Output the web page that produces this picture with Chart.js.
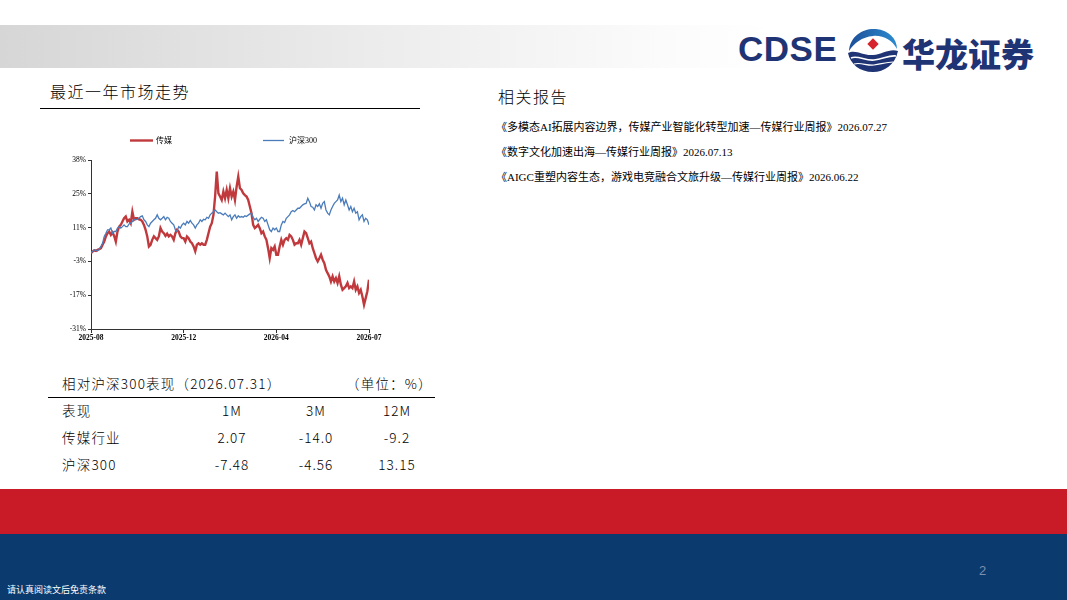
<!DOCTYPE html>
<html>
<head>
<meta charset="utf-8">
<script src="https://cdn.jsdelivr.net/npm/chart.js@4.4.1/dist/chart.umd.min.js"></script>
<style>
  html, body { margin:0; padding:0; }
  body { width:1067px; height:600px; position:relative; overflow:hidden; background:#fff;
         font-family:"Noto Sans CJK SC","Liberation Serif",serif; color:#000; }
  .abs { position:absolute; white-space:nowrap; }
  #header { left:0; top:25px; width:1067px; height:43px;
            background:linear-gradient(to right,#d6d6d6 0%,#ececec 35%,#fbfbfb 62%,#ffffff 72%); }
  #cdse { left:738px; top:29px; font-family:"Liberation Sans","DejaVu Sans",sans-serif; font-weight:bold;
          font-size:35px; color:#1f3474; letter-spacing:0.5px; }
  #hlzq { left:902px; top:29px; font-family:"Noto Sans CJK SC"; font-weight:900; font-size:33px; color:#1f3474; letter-spacing:0px; }
  #title1 { left:50px; top:79px; font-size:16px; letter-spacing:1.5px; font-weight:300; }
  #rule1 { left:40px; top:108px; width:380px; height:1px; background:#000; }
  #title2 { left:498px; top:84px; font-size:16px; letter-spacing:1.5px; font-weight:300; }
  .rep { left:496px; font-family:"Liberation Serif","Noto Sans CJK SC",serif; font-size:11px; }
  #chartBox { left:60px; top:128px; width:330px; height:222px; }
  .tbl { font-family:"Noto Sans CJK SC"; font-size:13.5px; letter-spacing:1.2px; font-weight:300; }
  .num { font-family:"Noto Sans CJK SC"; font-size:13.5px; text-align:center; width:80px; letter-spacing:1px; font-weight:300; }
  #rule2 { left:48px; top:397px; width:387px; height:1px; background:#000; }
  #red { left:0; top:489px; width:1067px; height:45px; background:#c81b27; }
  #blue { left:0; top:534px; width:1067px; height:66px; background:#0b3a6f; }
  #pg { left:979px; top:563px; font-family:"Liberation Sans",sans-serif; font-size:13px; color:#7d8fae; }
  #foot { left:7px; top:583px; font-size:9px; color:#ffffff; }
</style>
</head>
<body>
<div id="header" class="abs"></div>
<div id="cdse" class="abs">CDSE</div>
<svg class="abs" style="left:846px;top:27px" width="54" height="46" viewBox="0 0 54 46">
  <defs>
    <linearGradient id="g1" x1="0" y1="0" x2="1" y2="0">
      <stop offset="0" stop-color="#1c4f98"/><stop offset="1" stop-color="#2d8bd0"/>
    </linearGradient>
  </defs>
  <path d="M3 24 C4 9 17 1 30 2 C43 3 51 12 51 22 C46 13 37 8 27 9 C16 10 8 16 3 24 Z" fill="url(#g1)"/>
  <path d="M2 26 C10 22 17 29 27 28 C37 27 44 21 52 24 C49 38 38 45 27 45 C14 45 4 37 2 26 Z" fill="#1f3474"/>
  <path d="M5 31 C12 28 19 34 28 33 C37 32 43 28 50 29" stroke="#fff" stroke-width="1.6" fill="none"/>
  <path d="M8 37 C15 35 21 39 28 38 C35 37 41 35 47 35" stroke="#fff" stroke-width="1.2" fill="none"/>
  <rect x="23" y="13" width="8" height="8" transform="rotate(45 27 17)" fill="#d7242c"/>
</svg>
<div id="hlzq" class="abs">华龙证券</div>

<div id="title1" class="abs">最近一年市场走势</div>
<div id="rule1" class="abs"></div>
<div id="title2" class="abs">相关报告</div>
<div class="abs rep" style="top:118px">《多模态AI拓展内容边界，传媒产业智能化转型加速—传媒行业周报》2026.07.27</div>
<div class="abs rep" style="top:143px">《数字文化加速出海—传媒行业周报》2026.07.13</div>
<div class="abs rep" style="top:168px">《AIGC重塑内容生态，游戏电竞融合文旅升级—传媒行业周报》2026.06.22</div>

<div id="chartBox" class="abs"><canvas id="c"></canvas></div>

<div class="abs tbl" style="left:62px;top:373px">相对沪深300表现（2026.07.31）</div>
<div class="abs tbl" style="left:346px;top:373px">（单位：%）</div>
<div id="rule2" class="abs"></div>
<div class="abs tbl" style="left:62px;top:400px">表现</div>
<div class="abs num" style="left:192px;top:400px">1M</div>
<div class="abs num" style="left:276px;top:400px">3M</div>
<div class="abs num" style="left:357px;top:400px">12M</div>
<div class="abs tbl" style="left:62px;top:427px">传媒行业</div>
<div class="abs num" style="left:192px;top:427px">2.07</div>
<div class="abs num" style="left:276px;top:427px">-14.0</div>
<div class="abs num" style="left:357px;top:427px">-9.2</div>
<div class="abs tbl" style="left:62px;top:454px">沪深300</div>
<div class="abs num" style="left:192px;top:454px">-7.48</div>
<div class="abs num" style="left:276px;top:454px">-4.56</div>
<div class="abs num" style="left:357px;top:454px">13.15</div>

<div id="red" class="abs"></div>
<div id="blue" class="abs"></div>
<div id="pg" class="abs">2</div>
<div id="foot" class="abs">请认真阅读文后免责条款</div>

<script>
// ---- data ----
const seriesNames = ['传媒', '沪深300'];
const xTickLabels = ['2025-08', '2025-12', '2026-04', '2026-07'];
const xTickIndex = [0, 56, 112, 168];
const yTickLabels = ['-31%', '-17%', '-3%', '11%', '25%', '38%'];
const yMin = -31, yMax = 38;

const media = [
  0.0, 0.7, 1.1, 0.9, 1.3, 1.6, 2.0, 3.4, 4.7, 6.8,
  8.1, 8.8, 7.4, 8.4, 7.0, 4.7, 8.8, 10.8, 11.5, 12.9,
  14.2, 14.9, 12.9, 13.6, 12.2, 16.9, 13.6, 14.2, 14.2, 13.8,
  13.6, 12.9, 11.5, 9.5, 6.8, 2.7, 3.4, 5.4, 6.8, 6.1,
  5.4, 6.8, 10.2, 8.8, 8.1, 7.0, 7.9, 6.8, 7.4, 6.8,
  5.4, 8.1, 9.5, 8.8, 6.8, 6.1, 6.1, 4.7, 6.8, 6.1,
  4.7, 4.0, 2.7, 0.7, 3.4, 4.0, 3.4, 4.0, 3.4, 3.4,
  5.4, 8.1, 10.8, 12.2, 15.6, 23.1, 33.3, 24.4, 23.1, 21.7,
  25.1, 22.4, 25.8, 22.4, 26.5, 23.1, 25.1, 21.7, 27.1, 31.2,
  26.5, 25.8, 24.4, 23.7, 23.1, 21.7, 19.0, 16.3, 11.5, 10.2,
  10.8, 11.5, 10.2, 8.1, 8.8, 6.8, 5.4, 2.0, -2.1, 2.0,
  1.3, 2.7, -0.7, -0.7, 2.7, 5.4, 3.4, 5.4, 6.1, 5.4,
  7.4, 6.8, 5.4, 3.4, 4.0, 4.0, 5.4, 3.4, 6.1, 8.8,
  8.1, 6.1, 4.0, 4.7, 2.0, 0.0, -2.1, -3.4, -2.1, -0.7,
  -2.7, -4.1, -6.8, -8.2, -9.5, -11.6, -9.5, -11.6, -10.2, -12.2,
  -9.5, -12.9, -15.0, -14.3, -13.6, -12.2, -14.3, -13.6, -14.3, -11.6,
  -15.0, -13.6, -16.3, -15.0, -17.7, -21.1, -18.4, -15.6, -10.9
];
const hs300 = [
  0.0, 0.7, 1.3, 1.1, 0.9, 1.6, 2.7, 4.0, 6.8, 8.1,
  9.5, 9.5, 10.2, 8.1, 8.8, 8.8, 10.2, 10.8, 10.2, 10.8,
  11.5, 10.8, 10.8, 11.9, 12.2, 12.9, 13.8, 13.6, 13.8, 14.2,
  14.9, 15.2, 13.6, 12.9, 11.5, 10.8, 12.2, 12.9, 13.6, 14.2,
  15.6, 14.2, 13.6, 14.2, 14.9, 13.6, 14.6, 14.2, 12.9, 12.2,
  11.5, 9.5, 8.8, 10.8, 10.2, 11.5, 12.2, 11.5, 12.9, 12.2,
  13.3, 12.2, 11.5, 10.2, 11.5, 12.2, 13.6, 12.9, 13.8, 13.6,
  14.6, 14.2, 15.6, 16.3, 16.9, 17.6, 16.9, 16.3, 16.5, 16.0,
  15.6, 16.3, 15.6, 14.9, 15.6, 13.6, 14.9, 15.6, 14.2, 15.2,
  14.6, 14.9, 14.6, 15.2, 14.9, 15.5, 16.0, 16.3, 14.6, 13.6,
  14.2, 12.9, 13.8, 14.6, 14.2, 12.9, 13.6, 11.5, 9.5, 8.8,
  10.2, 9.5, 10.2, 8.8, 8.8, 11.5, 12.9, 12.5, 14.2, 14.9,
  15.6, 16.9, 17.4, 16.9, 17.6, 18.3, 18.3, 19.0, 19.7, 20.1,
  20.3, 22.4, 21.0, 19.0, 18.7, 17.6, 19.7, 19.0, 20.1, 18.3,
  20.3, 21.0, 17.6, 16.3, 15.6, 17.6, 19.0, 20.3, 21.0, 21.7,
  23.7, 21.0, 22.4, 19.7, 21.7, 19.7, 17.6, 19.0, 16.9, 18.3,
  16.3, 16.9, 13.6, 14.9, 15.6, 12.9, 14.2, 13.6, 11.5
];

const colors = ['#c0393d', '#4a7cba'];
const widths = [2.4, 1.3];

const legendPlugin = {
  id: 'lineLegend',
  afterDraw(chart) {
    const ctx = chart.ctx;
    const items = [{x: 70, w: 23, tx: 96}, {x: 203, w: 21, tx: 229}];
    ctx.save();
    chart.data.datasets.forEach((ds, i) => {
      const it = items[i];
      ctx.strokeStyle = ds.borderColor;
      ctx.lineWidth = ds.borderWidth;
      ctx.beginPath();
      ctx.moveTo(it.x, 12.5);
      ctx.lineTo(it.x + it.w, 12.5);
      ctx.stroke();
      ctx.fillStyle = '#000';
      ctx.font = '8px "Liberation Serif","Noto Sans CJK SC",serif';
      ctx.textBaseline = 'middle';
      ctx.fillText(ds.label, it.tx, 12.5);
    });
    ctx.restore();
  }
};

new Chart(document.getElementById('c'), {
  type: 'line',
  data: {
    datasets: [
      { label: seriesNames[0], data: media.map((v, i) => ({x: i, y: v})),
        borderColor: colors[0], borderWidth: widths[0], pointRadius: 0, tension: 0, order: 2 },
      { label: seriesNames[1], data: hs300.map((v, i) => ({x: i, y: v})),
        borderColor: colors[1], borderWidth: widths[1], pointRadius: 0, tension: 0, order: 1 }
    ]
  },
  options: {
    responsive: true, maintainAspectRatio: false, animation: false,
    layout: { padding: { top: 32, right: 21, left: 0, bottom: 0 } },
    plugins: { legend: { display: false }, tooltip: { enabled: false } },
    scales: {
      x: {
        type: 'linear', min: 0, max: 168,
        afterBuildTicks: s => { s.ticks = xTickIndex.map(v => ({value: v})); },
        afterFit: s => { s.height = 21; },
        ticks: { autoSkip: false, maxRotation: 0, padding: 1, color: '#000',
                 font: { family: 'Liberation Serif', size: 7.5, weight: 'bold' },
                 callback: (v, i) => xTickLabels[i] },
        grid: { drawOnChartArea: false, drawTicks: true, tickLength: 4, color: '#333', lineWidth: 1 },
        border: { display: true, color: '#333', width: 1 }
      },
      y: {
        min: yMin, max: yMax,
        afterBuildTicks: s => { s.ticks = yTickLabels.map((t, i) => ({value: yMin + (yMax - yMin) * i / (yTickLabels.length - 1)})); },
        afterFit: s => { s.width = 31; },
        ticks: { autoSkip: false, padding: 2, color: '#000',
                 font: { family: 'Liberation Serif', size: 7.5 },
                 callback: (v, i) => yTickLabels[i] },
        grid: { drawOnChartArea: false, drawTicks: true, tickLength: 3, color: '#333', lineWidth: 1 },
        border: { display: true, color: '#333', width: 1 }
      }
    }
  },
  plugins: [legendPlugin]
});
</script>
</body>
</html>
